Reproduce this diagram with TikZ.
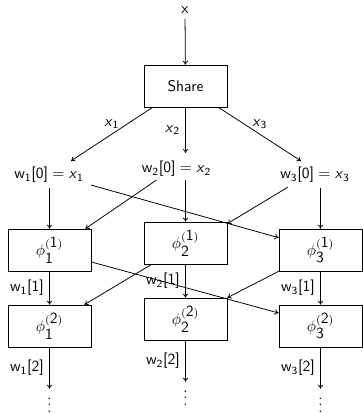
\documentclass[tikz,border=0pt]{standalone}
\usetikzlibrary{calc,arrows.meta}

% labels of the form w_i[k]
\newcommand{\wlab}[2]{w\textsubscript{#1}[#2]}
\newcommand{\xlab}[1]{\textsl{x}\textsubscript{#1}}
\newcommand{\philab}[2]{$\phi^{(\textsf{#2})}_{\textsf{#1}}$}

\tikzset{
  unitbox/.style={draw, line width=0.5pt, minimum width=53.5pt, minimum height=27pt, inner sep=0pt},
  wlabel/.style={inner sep=0pt},
  flow/.style={line width=0.5pt, -{To[length=2.6pt,width=3.6pt]}},
  dotsnode/.style={inner sep=0pt, anchor=base},
}

\begin{document}
\begin{tikzpicture}[x=0.6452pt, y=-0.6452pt, font=\sffamily]
  \useasboundingbox (0,0) rectangle (362,413);

  % input and share block
  \node (xin) at (185,10) {x};
  \node[unitbox] (share) at (185.5,86) {Share};

  % initial states
  \node[wlabel] (w10) at (49,175)    {\wlab{1}{0}${}={}$\xlab{1}};
  \node[wlabel] (w20) at (176.5,169) {\wlab{2}{0}${}={}$\xlab{2}};
  \node[wlabel] (w30) at (315,175)   {\wlab{3}{0}${}={}$\xlab{3}};

  % first layer
  \node[unitbox] (b11) at (49.5,250)  {\philab{1}{1}};
  \node[unitbox] (b21) at (185.5,243) {\philab{2}{1}};
  \node[unitbox] (b31) at (320.5,250) {\philab{3}{1}};

  % second layer
  \node[unitbox] (b12) at (49.5,326)  {\philab{1}{2}};
  \node[unitbox] (b22) at (185.5,319) {\philab{2}{2}};
  \node[unitbox] (b32) at (320.5,326) {\philab{3}{2}};

  % continuation dots
  \node[dotsnode] (d1) at (49.5,412)  {$\vdots$};
  \node[dotsnode] (d2) at (185.5,405) {$\vdots$};
  \node[dotsnode] (d3) at (320.5,412) {$\vdots$};

  % input into share
  \draw[flow] (xin) -- (share);

  % share outputs
  \draw[flow] ($(share.south west)+(9,0)$) -- node[above] {\xlab{1}} ($(w10.north)+(22,-6)$);
  \draw[flow] (share.south) -- node[left] {\xlab{2}} ($(w20.north)+(9,-8)$);
  \draw[flow] ($(share.south east)+(-9,0)$) -- node[above] {\xlab{3}} ($(w30.north)+(-14,-6)$);

  % straight paths into the first layer
  \draw[flow] ($(w10.south)+(0.5,5)$) -- (b11.north);
  \draw[flow] ($(w20.south)+(9,3)$) -- (b21.north);
  \draw[flow] ($(w30.south)+(5.5,5)$) -- (b31.north);

  % crossing paths into the first layer
  \draw[flow] ($(w20.south west)+(15,3)$) -- ($(b11.north east)+(-6,0)$);
  \draw[flow] ($(w10.south east)+(7,2)$) -- ($(b31.north west)+(0,9)$);
  \draw[flow] ($(w30.south west)+(8,4)$) -- ($(b21.north east)+(0,2)$);

  % first to second layer
  \draw[flow] (b11.south) -- node[left] {\wlab{1}{1}} (b12.north);
  \draw[flow] (b21.south) -- node[left] {\wlab{2}{1}} (b22.north);
  \draw[flow] (b31.south) -- node[left] {\wlab{3}{1}} (b32.north);

  % crossing paths into the second layer
  \draw[flow] ($(b11.east)+(0,12)$) -- ($(b32.west)+(0,-13)$);
  \draw[flow] ($(b21.south west)+(8,0)$) -- ($(b12.north east)+(-7,0)$);
  \draw[flow] (b31.south west) -- (b22.north east);

  % second layer outputs
  \draw[flow] (b12.south) -- node[left] {\wlab{1}{2}} (d1.north);
  \draw[flow] (b22.south) -- node[left] {\wlab{2}{2}} (d2.north);
  \draw[flow] (b32.south) -- node[left] {\wlab{3}{2}} (d3.north);
\end{tikzpicture}
\end{document}
